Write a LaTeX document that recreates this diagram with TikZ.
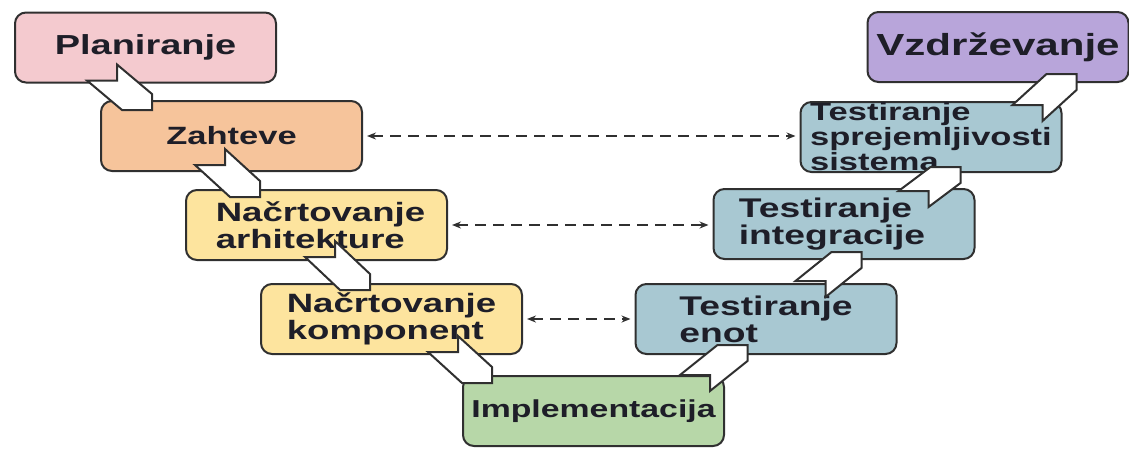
\documentclass[tikz,border=0pt]{standalone}
\usepackage{fontspec}
\newfontfamily\bxfont{Liberation Sans}[FakeStretch=1.38]
\usetikzlibrary{calc,arrows.meta}
\definecolor{cline}{HTML}{303030}
\definecolor{ctext}{HTML}{1E1E28}
\definecolor{cplan}{HTML}{F4CACF}
\definecolor{czah}{HTML}{F6C49B}
\definecolor{cdes}{HTML}{FDE49E}
\definecolor{cimpl}{HTML}{B7D7A8}
\definecolor{ctest}{HTML}{A8C8D2}
\definecolor{cvzd}{HTML}{B8A5DA}
\tikzset{
  phase/.style={draw=cline, line width=2pt, rounded corners=11pt,
    minimum width=261pt, minimum height=70pt, inner sep=0pt,
    align=left, text=ctext},
  fsz/.style={font=\bxfont\bfseries\fontsize{#1}{27}\selectfont},
  chev/.style={draw=cline, fill=white, line width=2pt, line join=miter},
  link/.style={draw=cline, line width=2.2pt, dash pattern=on 11pt off 7pt,
    {Stealth[length=9pt,width=7pt]}-{Stealth[length=9pt,width=7pt]},
    shorten >=4pt, shorten <=4pt}
}
\newcommand\chevdown[2]{%
  \draw[chev] ($(#1)+(-30,0)$) -- (#1) -- ($(#1)+(0,-16)$) --
    ($(#2)+(0,-16)$) -- (#2) -- ($(#2)+(-30,0)$) -- cycle;}
\newcommand\chevup[2]{%
  \draw[chev] ($(#1)+(-30,0)$) -- ($(#2)+(-30,0)$) -- (#2) --
    ($(#2)+(0,16)$) -- ($(#1)+(0,16)$) -- (#1) -- cycle;}
\begin{document}
\begin{tikzpicture}[x=1pt,y=-1pt]
\useasboundingbox (0,0) rectangle (1129,448);
% phases
\node[phase, fill=cplan, fsz=27.5] (plan) at (145.5,47.5) {Planiranje};
\node[phase, fill=czah, fsz=25] (zah) at (231.5,136) {Zahteve};
\node[phase, fill=cdes, fsz=26.5] (arh) at (316.5,225) {\hspace*{8pt}Načrtovanje\\\hspace*{8pt}arhitekture};
\node[phase, fill=cdes, fsz=26.5] (komp) at (391.5,319) {Načrtovanje\\komponent};
\node[phase, fill=cimpl, fsz=24.5] (impl) at (593.5,411) {Implementacija};
\node[phase, fill=ctest, fsz=27] (enot) at (766,319) {Testiranje\\enot};
\node[phase, fill=ctest, fsz=27] (integ) at (844,224) {Testiranje\\integracije\hspace*{24pt}};
\node[phase, fill=ctest, font=\bxfont\bfseries\fontsize{25}{25}\selectfont] (sprej) at (931,137) {Testiranje\\sprejemljivosti\\sistema};
\node[phase, fill=cvzd, fsz=30.5] (vzdr) at (998,47) {Vzdrževanje};
% dashed links
\draw[link] (zah.east) -- (zah.east -| sprej.west);
\draw[link] (arh.east) -- (arh.east -| integ.west);
\draw[link] (komp.east) -- (komp.east -| enot.west);
% block arrows
\coordinate (n1) at ($(plan.south west)+(103,-3)$);
\coordinate (t1) at ($(zah.north west)+(52,10)$);
\coordinate (n2) at ($(zah.south west)+(125,-7)$);
\coordinate (t2) at ($(arh.north west)+(75,8)$);
\coordinate (n3) at ($(arh.south west)+(150,-4)$);
\coordinate (t3) at ($(komp.north west)+(110,7)$);
\coordinate (n4) at ($(komp.south west)+(198,-3)$);
\coordinate (t4) at ($(impl.north west)+(30,8)$);
\coordinate (n5) at ($(impl.north east)+(-15,0)$);
\coordinate (t5) at ($(enot.south west)+(113,-10)$);
\coordinate (n6) at ($(enot.north east)+(-72,-2)$);
\coordinate (t6) at ($(integ.south west)+(149,-8)$);
\coordinate (n7) at ($(integ.north east)+(-47,3)$);
\coordinate (t7) at ($(sprej.south west)+(161,-6)$);
\coordinate (n8) at ($(sprej.north east)+(-20,4)$);
\coordinate (t8) at ($(vzdr.south west)+(210,-9)$);
\chevdown{n1}{t1}
\chevdown{n2}{t2}
\chevdown{n3}{t3}
\chevdown{n4}{t4}
\chevup{n5}{t5}
\chevup{n6}{t6}
\chevup{n7}{t7}
\chevup{n8}{t8}
\end{tikzpicture}
\end{document}
